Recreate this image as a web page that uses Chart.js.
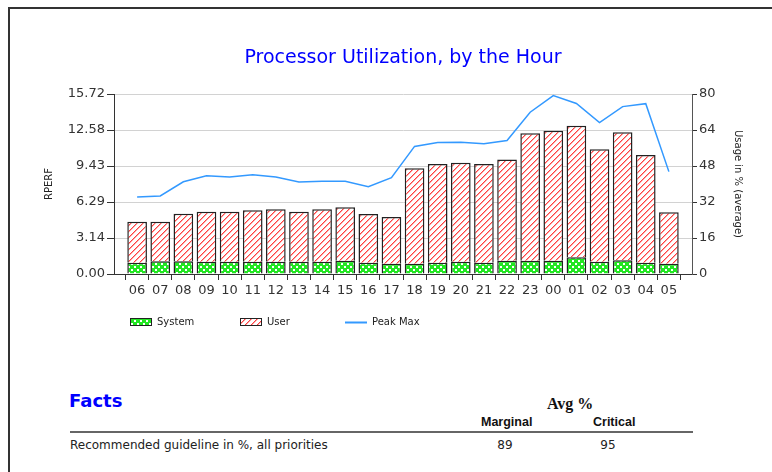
<!DOCTYPE html>
<html>
<head>
<meta charset="utf-8">
<script src="https://cdn.jsdelivr.net/npm/chart.js@4.4.1/dist/chart.umd.min.js"></script>
<style>
    html, body { margin: 0; padding: 0; background: #fff; }
    #page { position: relative; width: 772px; height: 472px; overflow: hidden; }
    #frame { position: absolute; left: 8px; top: 7px; width: 900px; height: 600px; border-left: 2px solid #333; border-top: 2px solid #333; }
    #chartBox { position: absolute; left: 0; top: 0; width: 772px; height: 345px; }
    .t { position: absolute; white-space: nowrap; }
    #facts { left: 69px; top: 390px; font: bold 18px "DejaVu Sans"; color: #0000ff; line-height: 22px; }
    #avg { left: 547px; top: 394px; font: bold 16px "Liberation Serif"; color: #111; line-height: 20px; }
    .col { top: 414px; font: bold 12.5px "Liberation Sans"; color: #111; line-height: 16px; }
    #rule { position: absolute; left: 70px; top: 431px; width: 623px; height: 2px; background: #666; }
    .row { top: 437px; font: 12px "DejaVu Sans"; color: #222; line-height: 16px; }
    .num { width: 40px; text-align: center; }
</style>
</head>
<body>
<div id="page">
    <div id="frame"></div>
    <div id="chartBox"><canvas id="cpuChart" width="772" height="345"></canvas></div>
    <div class="t" id="facts">Facts</div>
    <div class="t" id="avg">Avg %</div>
    <div class="t col" style="left:481px">Marginal</div>
    <div class="t col" style="left:593px">Critical</div>
    <div id="rule"></div>
    <div class="t row" style="left:70px">Recommended guideline in %, all priorities</div>
    <div class="t row num" style="left:485px">89</div>
    <div class="t row num" style="left:588px">95</div>
</div>
<script>
    const hours = ['06', '07', '08', '09', '10', '11', '12', '13', '14', '15', '16', '17',
        '18', '19', '20', '21', '22', '23', '00', '01', '02', '03', '04', '05'];

    // RPERF, stacked: system at the bottom, user on top
    const systemRperf = [0.99, 1.11, 1.11, 1.08, 1.08, 1.08, 1.08, 1.08, 1.08, 1.16, 0.99, 0.90,
        0.90, 0.99, 1.08, 0.99, 1.16, 1.16, 1.16, 1.46, 1.08, 1.19, 0.99, 0.90];
    const totalRperf = [4.57, 4.57, 5.27, 5.44, 5.44, 5.56, 5.65, 5.44, 5.65, 5.82, 5.24, 4.98,
        9.23, 9.61, 9.72, 9.61, 10.01, 12.29, 12.52, 12.94, 10.89, 12.37, 10.39, 5.39];
    const userRperf = totalRperf.map((t, i) => +(t - systemRperf[i]).toFixed(2));

    // Peak Max, usage in % (right axis)
    const peakMax = [34.2, 34.7, 41.0, 43.7, 43.1, 44.1, 43.1, 40.9, 41.2, 41.2, 38.8, 42.8,
        56.7, 58.4, 58.5, 57.9, 59.3, 71.9, 79.3, 75.8, 67.3, 74.4, 75.7, 45.5];

    const rperfTicks = [0, 3.144, 6.288, 9.432, 12.576, 15.72];
    const usageTicks = [0, 16, 32, 48, 64, 80];

    function makePattern(draw) {
        const c = document.createElement('canvas');
        c.width = 6;
        c.height = 6;
        const g = c.getContext('2d');
        draw(g);
        return g.createPattern(c, 'repeat');
    }

    // red "/" hatch, drawn pixel by pixel
    const userFill = makePattern(g => {
        g.fillStyle = '#ffffff';
        g.fillRect(0, 0, 6, 6);
        for (let i = 0; i < 6; i++) {
            g.fillStyle = '#ff4040';
            g.fillRect(i, 5 - i, 1, 1);
            g.fillStyle = '#ffa4a4';
            g.fillRect((i + 1) % 6, 5 - i, 1, 1);
        }
    });

    // green cross-hatch with white holes
    const systemFill = makePattern(g => {
        g.fillStyle = '#22e622';
        g.fillRect(0, 0, 6, 6);
        g.fillStyle = '#ffffff';
        g.fillRect(2, 2, 2, 2);
        g.fillRect(5, 5, 1, 1);
        g.fillRect(0, 5, 1, 1);
        g.fillRect(5, 0, 1, 1);
        g.fillRect(0, 0, 1, 1);
    });

    const toPoints = arr => arr.map((v, i) => ({ x: i, y: v }));

    // fixed-column legend like the original
    const legendX = [130, 240, 345];
    const legendPlugin = {
        id: 'columnLegend',
        afterDraw(chart) {
            const ctx = chart.ctx;
            const y = 322;
            ctx.save();
            ctx.font = '10px "DejaVu Sans"';
            ctx.textBaseline = 'middle';
            chart.data.datasets.forEach((ds, i) => {
                const x = legendX[i];
                if (ds.type === 'line') {
                    ctx.strokeStyle = ds.borderColor;
                    ctx.lineWidth = 2;
                    ctx.beginPath();
                    ctx.moveTo(x, y + 0.5);
                    ctx.lineTo(x + 22, y + 0.5);
                    ctx.stroke();
                } else {
                    ctx.fillStyle = ds.backgroundColor;
                    ctx.fillRect(x, y - 4, 22, 8);
                    ctx.strokeStyle = '#222';
                    ctx.lineWidth = 1;
                    ctx.strokeRect(x + 0.5, y - 3.5, 21, 7);
                }
                ctx.fillStyle = '#222';
                ctx.fillText(ds.label, x + 27, y);
            });
            ctx.restore();
        }
    };

    const ctx = document.getElementById('cpuChart').getContext('2d');
    new Chart(ctx, {
        type: 'bar',
        data: {
            datasets: [{
                label: 'System',
                data: toPoints(systemRperf),
                backgroundColor: systemFill,
                borderColor: '#222',
                borderWidth: 1.5,
                categoryPercentage: 0.85,
                barPercentage: 1,
                yAxisID: 'y',
                stack: 'rperf',
                order: 1
            }, {
                label: 'User',
                data: toPoints(userRperf),
                backgroundColor: userFill,
                borderColor: '#222',
                borderWidth: 1.5,
                categoryPercentage: 0.85,
                barPercentage: 1,
                yAxisID: 'y',
                stack: 'rperf',
                order: 1
            }, {
                type: 'line',
                label: 'Peak Max',
                data: toPoints(peakMax),
                borderColor: '#3399ff',
                borderWidth: 1.5,
                pointRadius: 0,
                tension: 0,
                yAxisID: 'y2',
                stack: 'peak',
                order: 0
            }]
        },
        options: {
            responsive: false,
            animation: false,
            layout: { padding: 0 },
            plugins: {
                legend: { display: false },
                tooltip: { enabled: false },
                title: {
                    display: true,
                    fullSize: false,
                    text: 'Processor Utilization, by the Hour',
                    color: '#0000ff',
                    font: { family: 'DejaVu Sans', size: 19, weight: 'normal' },
                    padding: { top: 47, bottom: 24.2 }
                }
            },
            scales: {
                x: {
                    type: 'linear',
                    min: -1,
                    max: 24,
                    stacked: true,
                    offset: false,
                    afterFit: s => { s.height = 71; },
                    grid: { drawOnChartArea: false, tickLength: 6, tickColor: '#333' },
                    border: { color: '#333', width: 1 },
                    ticks: {
                        stepSize: 1,
                        autoSkip: false,
                        maxRotation: 0,
                        padding: 3,
                        color: '#333',
                        font: { family: 'DejaVu Sans', size: 13 },
                        callback: v => hours[v] ?? ''
                    }
                },
                y: {
                    position: 'left',
                    stacked: true,
                    min: 0,
                    max: 15.72,
                    afterFit: s => { s.width = 114; },
                    afterBuildTicks: s => { s.ticks = rperfTicks.map(v => ({ value: v })); },
                    grid: {
                        color: c => c.tick && c.tick.value === 0 ? '#333' : '#d2d2d2',
                        tickColor: '#333',
                        tickLength: 7
                    },
                    border: { color: '#333', width: 1 },
                    ticks: {
                        padding: 2,
                        color: '#333',
                        font: { family: 'DejaVu Sans', size: 13 },
                        callback: v => Number(v).toFixed(2)
                    },
                    title: {
                        display: true,
                        text: 'RPERF',
                        color: '#222',
                        font: { family: 'DejaVu Sans', size: 10 },
                        padding: { top: 43.5 }
                    }
                },
                y2: {
                    position: 'right',
                    min: 0,
                    max: 80,
                    afterFit: s => { s.width = 80; },
                    afterBuildTicks: s => { s.ticks = usageTicks.map(v => ({ value: v })); },
                    grid: { drawOnChartArea: false, tickColor: '#333', tickLength: 5 },
                    border: { color: '#555', width: 1 },
                    ticks: {
                        padding: 2,
                        color: '#333',
                        font: { family: 'DejaVu Sans', size: 13 }
                    },
                    title: {
                        display: true,
                        text: 'Usage in % (average)',
                        color: '#222',
                        font: { family: 'DejaVu Sans', size: 10 },
                        padding: { top: 28.3 }
                    }
                }
            }
        },
        plugins: [legendPlugin]
    });
</script>
</body>
</html>
